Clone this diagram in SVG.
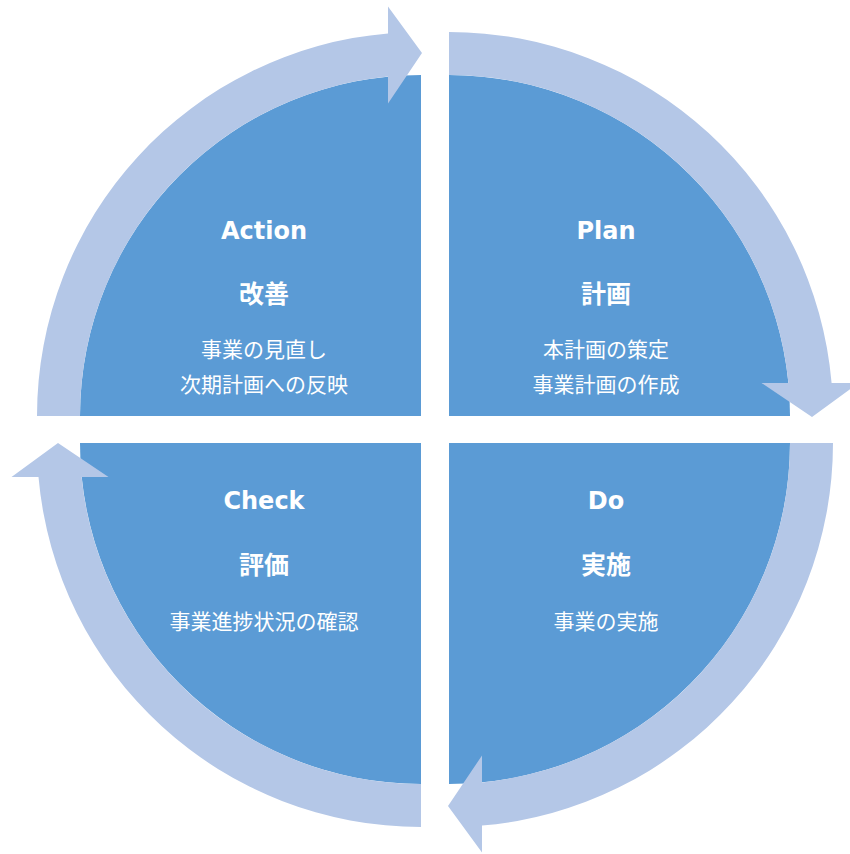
<svg xmlns="http://www.w3.org/2000/svg" width="850" height="854" viewBox="0 0 850 854">
<style>
.q{fill:#5B9BD5;}
.arr{fill:#B4C7E7;}
.t{font-family:"DejaVu Sans","Noto Sans CJK JP",sans-serif;font-weight:bold;font-size:24px;fill:#FFFFFF;text-anchor:middle;}
.s{font-family:"Noto Sans CJK JP",sans-serif;font-weight:bold;font-size:25px;fill:#FFFFFF;text-anchor:middle;}
.b{font-family:"Noto Sans CJK JP",sans-serif;font-size:21px;fill:#FFFFFF;text-anchor:middle;}
</style>
<rect width="850" height="854" fill="#FFFFFF"/>
<g id="action">
<path class="q" d="M421,416 L80,416 A341,341 0 0 1 421,75 Z"/>
<text class="t" x="264" y="239">Action</text>
<text class="s" x="264" y="303">改善</text>
<text class="b" x="264" y="357">事業の見直し</text>
<text class="b" x="264" y="392">次期計画への反映</text>
</g>
<g id="plan">
<path class="q" d="M449,416 L449,75 A341,341 0 0 1 790,416 Z"/>
<text class="t" x="606" y="239">Plan</text>
<text class="s" x="606" y="303">計画</text>
<text class="b" x="606" y="357">本計画の策定</text>
<text class="b" x="606" y="392">事業計画の作成</text>
</g>
<g id="do">
<path class="q" d="M449,443 L790,443 A341,341 0 0 1 449,784 Z"/>
<text class="t" x="606" y="509">Do</text>
<text class="s" x="606" y="574">実施</text>
<text class="b" x="606" y="629">事業の実施</text>
</g>
<g id="check">
<path class="q" d="M421,443 L421,784 A341,341 0 0 1 80,443 Z"/>
<text class="t" x="264" y="509">Check</text>
<text class="s" x="264" y="574">評価</text>
<text class="b" x="264" y="629">事業進捗状況の確認</text>
</g>
<g id="connectors">
<path class="arr" d="M37,416 A384,384 0 0 1 388,33.4 L388,6.5 L422,53 L388,103.5 L388,76.6 A341,341 0 0 0 80,416 Z"/>
<path class="arr" d="M449,32 A384,384 0 0 1 831.6,383 L858.5,383 L812,417 L761.5,383 L788.4,383 A341,341 0 0 0 449,75 Z"/>
<path class="arr" d="M833,443 A384,384 0 0 1 482,825.6 L482,852.5 L448,806 L482,755.5 L482,782.4 A341,341 0 0 0 790,443 Z"/>
<path class="arr" d="M421,827 A384,384 0 0 1 38.5,477 L11.5,477 L58,443 L108.5,477 L81.6,477 A341,341 0 0 0 421,784 Z"/>
</g>
</svg>
